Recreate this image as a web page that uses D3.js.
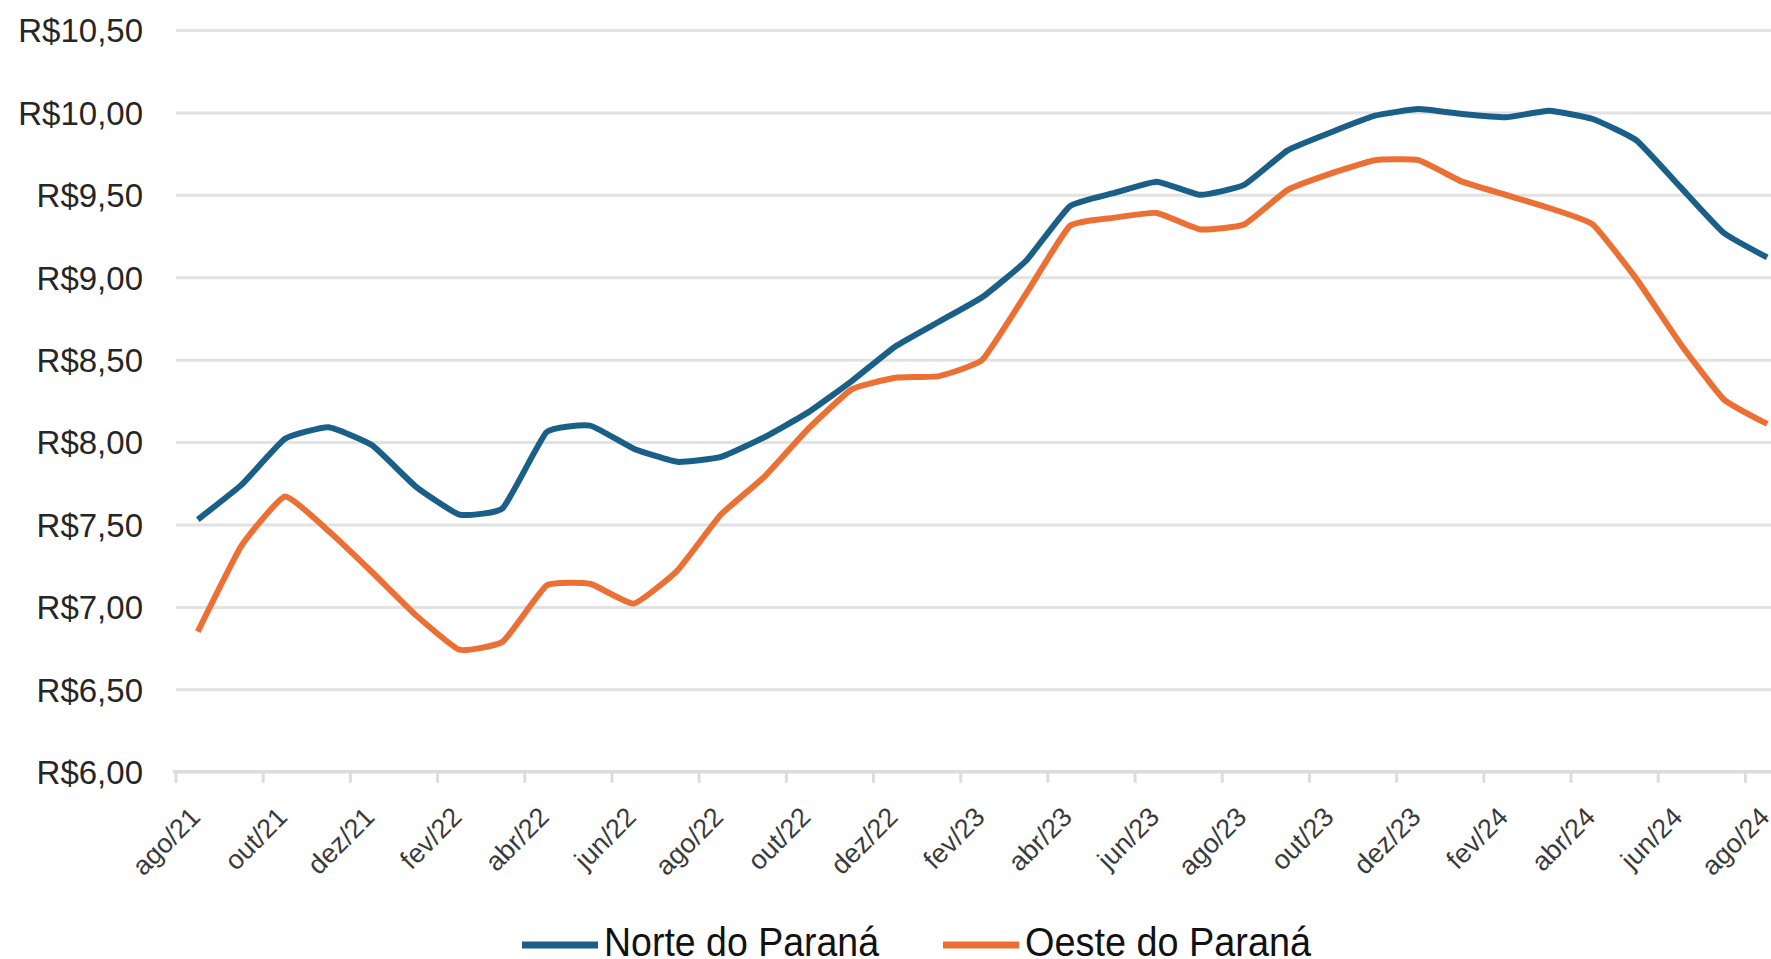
<!DOCTYPE html>
<html>
<head>
<meta charset="utf-8">
<script src="https://cdn.jsdelivr.net/npm/d3@7"></script>
<style>
  body { margin: 0; background: #fff; overflow: hidden; }
  svg { display: block; font-family: "Liberation Sans", Arial, sans-serif; }
</style>
</head>
<body>
<div id="chart"></div>
<script>
// size of the picture
var svgWidth = 1771;
var svgHeight = 959;

// months on the x axis, ago/21 to ago/24
var months = ["ago/21", "set/21", "out/21", "nov/21", "dez/21", "jan/22", "fev/22", "mar/22", "abr/22",
    "mai/22", "jun/22", "jul/22", "ago/22", "set/22", "out/22", "nov/22", "dez/22", "jan/23", "fev/23",
    "mar/23", "abr/23", "mai/23", "jun/23", "jul/23", "ago/23", "set/23", "out/23", "nov/23", "dez/23",
    "jan/24", "fev/24", "mar/24", "abr/24", "mai/24", "jun/24", "jul/24", "ago/24"];

// price series (R$)
var norte = [7.53, 7.74, 8.02, 8.09, 7.98, 7.73, 7.56, 7.60, 8.06, 8.10, 7.96, 7.88, 7.91, 8.03,
    8.18, 8.37, 8.58, 8.73, 8.88, 9.10, 9.43, 9.51, 9.58, 9.50, 9.56, 9.77, 9.88, 9.98, 10.02,
    9.99, 9.97, 10.01, 9.96, 9.83, 9.55, 9.27, 9.12];
var oeste = [6.85, 7.37, 7.67, 7.46, 7.21, 6.95, 6.74, 6.79, 7.13, 7.14, 7.02, 7.22, 7.56, 7.79,
    8.08, 8.32, 8.39, 8.40, 8.50, 8.90, 9.31, 9.36, 9.39, 9.29, 9.32, 9.53, 9.63, 9.71, 9.71,
    9.58, 9.50, 9.42, 9.32, 8.99, 8.60, 8.26, 8.11];

var seriesNames = ["Norte do Paraná", "Oeste do Paraná"];
var seriesColors = ["#1a5f87", "#ec7033"];

// y ticks
var yTicks = [6, 6.5, 7, 7.5, 8, 8.5, 9, 9.5, 10, 10.5];
// x labels every second month
var xTicks = months.filter(function(d, i) { return i % 2 === 0; });

// plot area (the chart is cut on the right side like the original)
var plot = { left: 176, right: 1789, top: 30, bottom: 771.7 };

var svg = d3.select("#chart")
    .append("svg")
    .attr("width", svgWidth)
    .attr("height", svgHeight);

var x = d3.scaleBand()
    .domain(months)
    .range([plot.left, plot.right])
    .paddingInner(0)
    .paddingOuter(0);

var y = d3.scaleLinear()
    .domain([6, 10.5])
    .range([plot.bottom, plot.top]);

var bw = x.bandwidth();

// gridlines + y labels
var yAxis = svg.append("g")
    .attr("transform", `translate(${plot.left}, 0)`)
    .call(d3.axisLeft(y)
        .tickValues(yTicks)
        .tickSize(-(plot.right - plot.left))
        .tickPadding(33)
        .tickFormat(function(d) { return "R$" + d3.format(".2f")(d).replace(".", ","); }));

yAxis.select(".domain").remove();
yAxis.selectAll("line")
    .attr("stroke", "#e2e2e2")
    .attr("stroke-width", 3)
    .attr("x2", plot.right - plot.left + 10);
yAxis.selectAll("line").filter(function(d) { return d === 6; }).remove();
yAxis.selectAll("text")
    .attr("fill", "#262626")
    .attr("font-size", 33)
    .attr("dy", "0.36em");

// x axis with tick marks between categories
var xAxis = svg.append("g")
    .attr("transform", `translate(0, ${plot.bottom})`)
    .call(d3.axisBottom(x).tickValues(xTicks).tickSize(11).tickSizeOuter(0));

xAxis.select(".domain")
    .attr("d", `M${plot.left - 3},0H${plot.right + 10}`)
    .attr("stroke", "#dcdcdc")
    .attr("stroke-width", 3.5);
xAxis.selectAll(".tick line")
    .attr("x1", -bw / 2)
    .attr("x2", -bw / 2)
    .attr("stroke", "#dcdcdc")
    .attr("stroke-width", 3);
xAxis.selectAll(".tick text")
    .attr("fill", "#3a3a3a")
    .attr("font-size", 27)
    .attr("text-anchor", "end")
    .attr("dy", 0)
    .attr("y", 0)
    .attr("transform", "translate(4, 47) rotate(-45)");

// the two lines, only lightly smoothed
var line = d3.line()
    .x(function(d, i) { return x(months[i]) + bw / 2; })
    .y(function(d) { return y(d); })
    .curve(d3.curveCardinal.tension(0.6));

[norte, oeste].forEach(function(vals, k) {
    svg.append("path")
        .datum(vals)
        .attr("fill", "none")
        .attr("stroke", seriesColors[k])
        .attr("stroke-width", 6)
        .attr("stroke-linejoin", "round")
        .attr("d", line);
});

// legend at the bottom
var legendX = [522, 943];
var legendW = [275, 286];
var legend = svg.append("g");
seriesNames.forEach(function(name, k) {
    legend.append("line")
        .attr("x1", legendX[k])
        .attr("x2", legendX[k] + 76)
        .attr("y1", 945)
        .attr("y2", 945)
        .attr("stroke", seriesColors[k])
        .attr("stroke-width", 7);
    legend.append("text")
        .attr("x", legendX[k] + 82)
        .attr("y", 956)
        .attr("font-size", 40)
        .attr("fill", "#111")
        .attr("textLength", legendW[k])
        .attr("lengthAdjust", "spacingAndGlyphs")
        .text(name);
});
</script>
</body>
</html>
